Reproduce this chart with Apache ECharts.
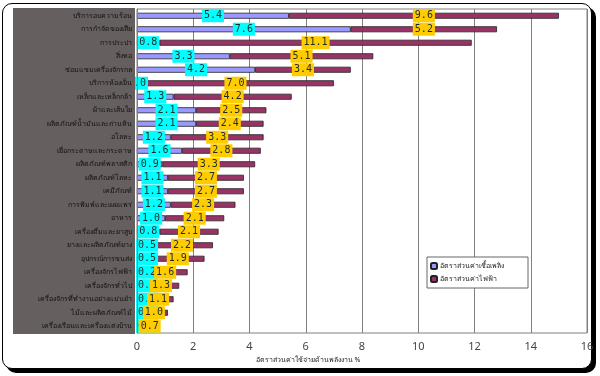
<!DOCTYPE html>
<html>
<head>
<meta charset="utf-8">
<script src="https://cdn.jsdelivr.net/npm/echarts@6/dist/echarts.min.js"></script>
<style>
  html, body { margin: 0; padding: 0; background: #fff; }
  #frame {
    position: absolute; left: 2px; top: 3px; width: 588px; height: 364px;
    border: 1.5px solid #000; border-radius: 10px;
    box-shadow: 4px 4px 0 #000; background: #fff;
  }
  #chart { position: absolute; left: 0; top: 0; width: 600px; height: 376px; }
</style>
</head>
<body>
<div id="frame"></div>
<div id="chart"></div>
<script>
// Industry categories, top to bottom
const categories = [
  'บริการอบความร้อน',
  'การกำจัดของเสีย',
  'การประปา',
  'สิ่งทอ',
  'ซ่อมแซมเครื่องจักรกล',
  'บริการห้องเย็น',
  'เหล็กและเหล็กกล้า',
  'ผ้าและเส้นใย',
  'ผลิตภัณฑ์น้ำมันและถ่านหิน',
  'อโลหะ',
  'เยื่อกระดาษและกระดาษ',
  'ผลิตภัณฑ์พลาสติก',
  'ผลิตภัณฑ์โลหะ',
  'เคมีภัณฑ์',
  'การพิมพ์และเผยแพร่',
  'อาหาร',
  'เครื่องดื่มและยาสูบ',
  'ยางและผลิตภัณฑ์ยาง',
  'อุปกรณ์การขนส่ง',
  'เครื่องจักรไฟฟ้า',
  'เครื่องจักรทั่วไป',
  'เครื่องจักรที่ทำงานอย่างแม่นยำ',
  'ไม้และผลิตภัณฑ์ไม้',
  'เครื่องเรือนและเครื่องแต่งบ้าน'
];

// fuel cost ratio (%)
const fuelRatio = [5.4, 7.6, 0.8, 3.3, 4.2, 0.0, 1.3, 2.1, 2.1, 1.2, 1.6, 0.9,
  1.1, 1.1, 1.2, 1.0, 0.8, 0.5, 0.5, 0.2, 0.2, 0.2, 0.1, 0.1];
// electricity cost ratio (%)
const elecRatio = [9.6, 5.2, 11.1, 5.1, 3.4, 7.0, 4.2, 2.5, 2.4, 3.3, 2.8, 3.3,
  2.7, 2.7, 2.3, 2.1, 2.1, 2.2, 1.9, 1.6, 1.3, 1.1, 1.0, 0.7];

const xTicks = { min: 0, max: 16, step: 2 };

const PLOT_LEFT = 137;

const chart = echarts.init(document.getElementById('chart'));

const labelStyle = (bg) => ({
  show: true,
  position: 'inside',
  formatter: (p) => p.value.toFixed(1),
  backgroundColor: bg,
  color: '#1d2b2b',
  fontFamily: 'DejaVu Sans Mono',
  fontSize: 10,
  padding: [2, 2, 1, 2]
});

const option = {
  animation: false,
  textStyle: { fontFamily: 'Noto Sans, DejaVu Sans, sans-serif' },
  grid: {
    left: PLOT_LEFT, right: 13, top: 9, bottom: 43,
    show: true, backgroundColor: '#fff', borderColor: '#808080', borderWidth: 1
  },
  graphic: [
    // gray panel behind the category names
    { type: 'rect', z: 10, shape: { x: 13, y: 8, width: 122, height: 326 },
      style: { fill: '#655f5f' } }
  ],
  legend: {
    orient: 'vertical',
    left: 427, top: 257,
    data: ['อัตราส่วนค่าเชื้อเพลิง', 'อัตราส่วนค่าไฟฟ้า'],
    backgroundColor: '#fff',
    borderColor: '#666', borderWidth: 1,
    padding: [5, 24, 5, 3],
    itemWidth: 6, itemHeight: 6, itemGap: 5,
    textStyle: { fontSize: 7, color: '#222', padding: [0, 0, 0, -2] }
  },
  xAxis: {
    type: 'value',
    min: xTicks.min, max: xTicks.max, interval: xTicks.step,
    name: 'อัตราส่วนค่าใช้จ่ายด้านพลังงาน %',
    nameLocation: 'middle', nameGap: 22,
    nameTextStyle: { fontSize: 7, color: '#222', padding: [0, 108, 0, 0] },
    axisLine: { show: false },
    axisTick: { show: false },
    axisLabel: { fontSize: 11, color: '#444', margin: 8 },
    splitLine: { lineStyle: { color: '#808080', width: 1 } }
  },
  yAxis: {
    type: 'category',
    inverse: true,
    data: categories,
    z: 20,
    axisLine: { lineStyle: { color: '#808080' } },
    axisTick: { show: false },
    axisLabel: { fontSize: 7, color: '#111', margin: 5 }
  },
  // push small fuel labels inside the plot so they are not hidden by the panel
  labelLayout: (params) => {
    if (params.seriesIndex === 0 && fuelRatio[params.dataIndex] > 0 &&
        params.labelRect.x < PLOT_LEFT - 1) {
      return { dx: PLOT_LEFT - 1 - params.labelRect.x };
    }
    return {};
  },
  series: [
    {
      name: 'อัตราส่วนค่าเชื้อเพลิง',
      type: 'bar', stack: 'total', barWidth: 6,
      data: fuelRatio,
      itemStyle: { color: '#9999ff', borderColor: '#222', borderWidth: 0.8 },
      label: labelStyle('#00ffff')
    },
    {
      name: 'อัตราส่วนค่าไฟฟ้า',
      type: 'bar', stack: 'total', barWidth: 6,
      data: elecRatio,
      itemStyle: { color: '#993366', borderColor: '#222', borderWidth: 0.8 },
      label: labelStyle('#ffcc00')
    }
  ]
};

chart.setOption(option);
</script>
</body>
</html>
